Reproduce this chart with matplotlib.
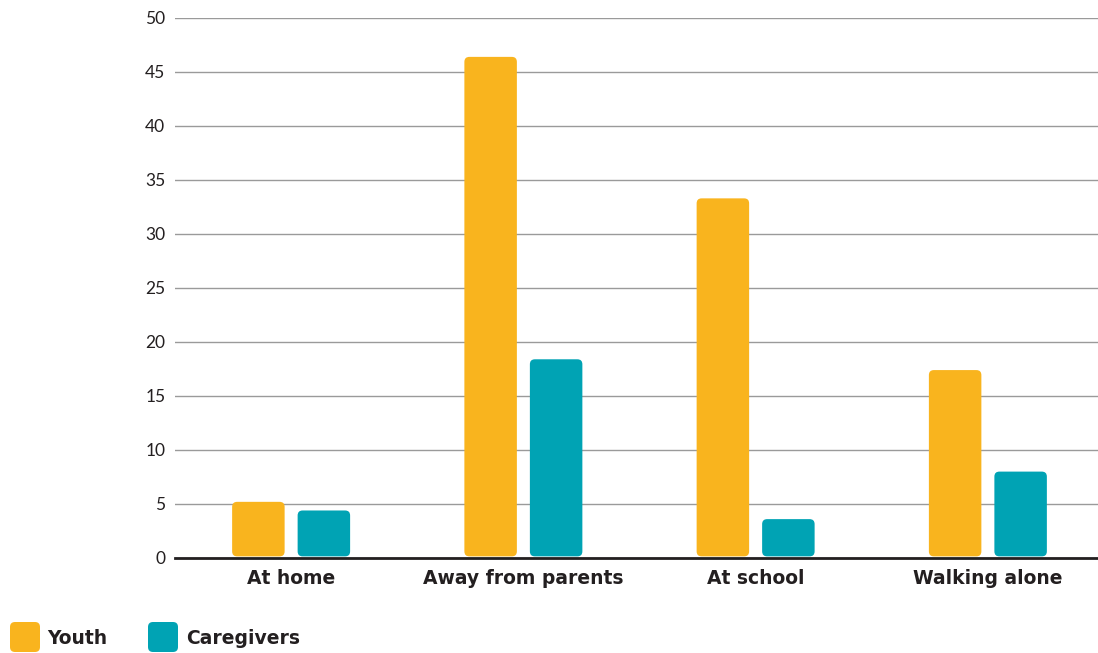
import matplotlib
matplotlib.use("Agg")
import matplotlib.pyplot as plt
from matplotlib.patches import FancyBboxPatch
import numpy as np

categories = ["At home", "Away from parents", "At school", "Walking alone"]
youth = [5.2, 46.4, 33.3, 17.4]
caregivers = [4.4, 18.4, 3.6, 8.0]
yticks = [0, 5, 10, 15, 20, 25, 30, 35, 40, 45, 50]
series_names = ["Youth", "Caregivers"]

YELLOW = "#F9B41E"
TEAL = "#00A3B4"
TXT = "#231F20"

plt.rcParams['font.family'] = ['Lato', 'DejaVu Sans']
BOLD = dict(family=['DejaVu Sans'], weight='bold')

W, H = 1098, 653
fig = plt.figure(figsize=(W / 100, H / 100), dpi=100)
AX_W = 929
ax = fig.add_axes([175 / W, 1 - 558 / H, AX_W / W, 540 / H])

x = np.arange(len(categories))
bw = 0.226
off = 0.141
b1 = ax.bar(x - off, youth, bw, color=YELLOW, zorder=3)
b2 = ax.bar(x + off, caregivers, bw, color=TEAL, zorder=3)

ax.set_xlim(-0.5, 3.5)
ax.set_ylim(0, 50)

# Replace rectangular bars with rounded ones
px_per_x = AX_W / 4.0
px_per_y = 540 / 50.0
aspect = px_per_x / px_per_y
r_px = 5
for bars in (b1, b2):
    for p in bars:
        x0, y0 = p.get_x(), p.get_y()
        w, h = p.get_width(), p.get_height()
        p.set_visible(False)
        fb = FancyBboxPatch((x0, y0 + 0.15), w, h - 0.15,
                            boxstyle=f"round,pad=0,rounding_size={r_px / px_per_x}",
                            mutation_aspect=aspect,
                            facecolor=p.get_facecolor(), edgecolor="none", zorder=3)
        ax.add_patch(fb)

ax.set_yticks(yticks)
ax.set_yticklabels([str(t) for t in yticks], fontsize=12.5, color=TXT)
ax.set_xticks(x)
ax.set_xticklabels(categories, fontsize=13.5, color=TXT, **BOLD)
ax.tick_params(axis="both", length=0)
ax.tick_params(axis="y", pad=7)
ax.tick_params(axis="x", pad=8)

ax.grid(axis="y", color="#9a9a9a", linewidth=1, zorder=1)
ax.set_axisbelow(True)
for s in ["top", "right", "left"]:
    ax.spines[s].set_visible(False)
ax.spines["bottom"].set_color(TXT)
ax.spines["bottom"].set_linewidth(2)
ax.spines["bottom"].set_zorder(5)

# Legend (bottom-left), drawn in figure inches
leg_items = [(series_names[0], YELLOW, 10, 47), (series_names[1], TEAL, 148, 186)]
for name, col, sx, tx in leg_items:
    sq = FancyBboxPatch((sx / 100, (H - 652) / 100), 0.30, 0.30,
                        boxstyle="round,pad=0,rounding_size=0.05",
                        facecolor=col, edgecolor="none",
                        transform=fig.dpi_scale_trans)
    fig.add_artist(sq)
    fig.text(tx / W, (H - 638) / H, name, ha="left", va="center",
             fontsize=13.5, color=TXT, **BOLD)

fig.savefig("out.png", dpi=100)
